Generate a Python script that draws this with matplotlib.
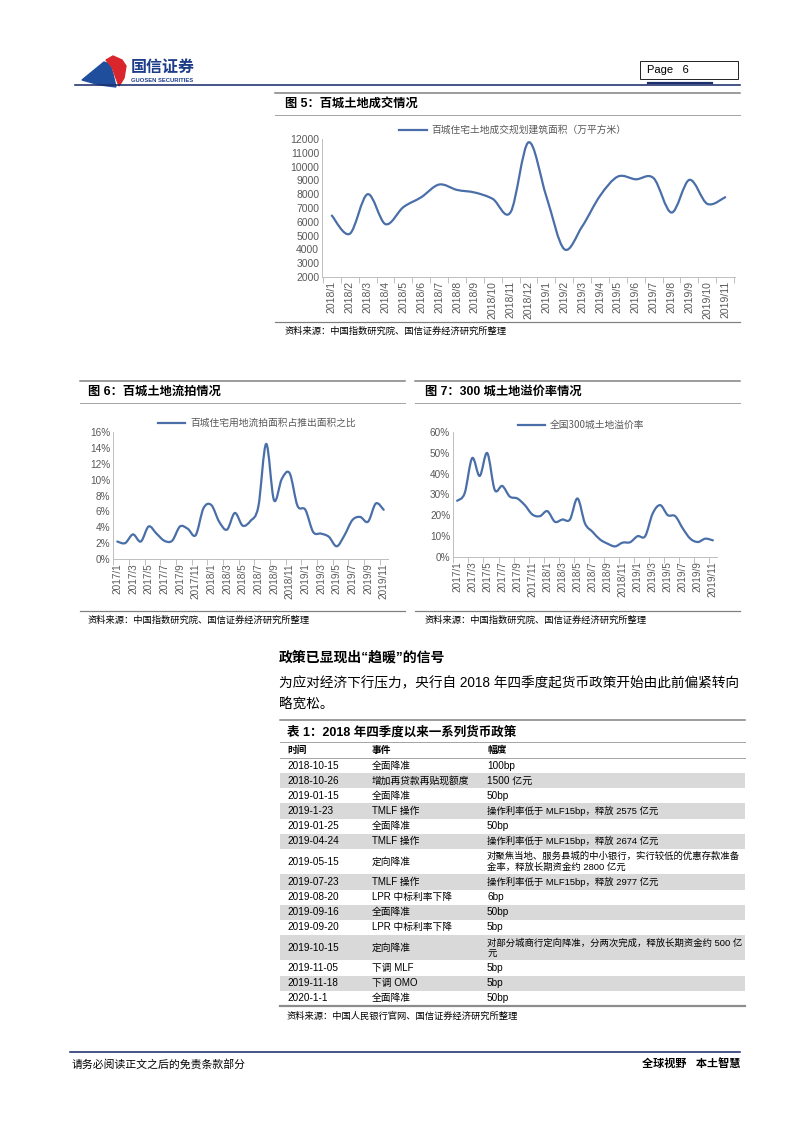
import numpy as np
import matplotlib

matplotlib.use('Agg')
import matplotlib.pyplot as plt
from matplotlib.lines import Line2D
from matplotlib.patches import PathPatch, Polygon, Rectangle
from matplotlib.path import Path
from matplotlib.ticker import FuncFormatter

W, H = 802, 1133
plt.rcParams['font.family'] = ['Liberation Sans', 'Noto Sans CJK SC', 'DejaVu Sans']

LINE_BLUE = '#4a6fa8'
NAVY = '#1d2f6b'
TICK_GREY = '#595959'
SPINE_GREY = '#bfbfbf'

# --- chart data -------------------------------------------------------------
MONTHS_18 = [f'2018/{m}' for m in range(1, 13)] + [f'2019/{m}' for m in range(1, 12)]
LAND_AREA = [6450, 5130, 8000, 5830, 7060, 7780, 8700, 8310, 8120, 7660, 6700, 11760,
             7830, 4020, 5660, 7880, 9280, 9080, 9160, 6670, 9040, 7300, 7780]

MONTHS_17 = ([f'2017/{m}' for m in range(1, 13)] + [f'2018/{m}' for m in range(1, 13)]
             + [f'2019/{m}' for m in range(1, 12)])
FAILED_RATIO = [2.2, 2.0, 3.1, 2.2, 4.1, 3.2, 2.3, 2.3, 4.1, 3.8, 3.0, 6.4,
                6.8, 4.7, 3.7, 5.8, 4.2, 4.8, 6.6, 14.5, 7.4, 10.1, 10.8, 6.7,
                6.2, 3.4, 3.2, 2.8, 1.6, 3.0, 4.9, 5.3, 4.7, 7.0, 6.2]
PREMIUM_RATE = [27.0, 30.6, 47.5, 38.9, 49.9, 32.2, 34.1, 29.0, 28.1, 24.9, 20.4, 19.6,
                22.0, 16.9, 18.0, 18.0, 28.1, 16.1, 12.1, 8.4, 6.4, 5.1, 6.9, 7.1,
                10.0, 10.0, 20.9, 24.9, 20.1, 19.6, 13.7, 8.8, 7.2, 8.8, 8.0]

# --- table data -------------------------------------------------------------
TABLE_HEAD = ['时间', '事件', '幅度']
DATES = ['2018-10-15', '2018-10-26', '2019-01-15', '2019-1-23', '2019-01-25', '2019-04-24',
         '2019-05-15', '2019-07-23', '2019-08-20', '2019-09-16', '2019-09-20', '2019-10-15',
         '2019-11-05', '2019-11-18', '2020-1-1']
EVENTS = ['全面降准', '增加再贷款再贴现额度', '全面降准', 'TMLF 操作', '全面降准', 'TMLF 操作',
          '定向降准', 'TMLF 操作', 'LPR 中标利率下降', '全面降准', 'LPR 中标利率下降', '定向降准',
          '下调 MLF', '下调 OMO', '全面降准']
AMOUNTS = ['100bp', '1500 亿元', '50bp', '操作利率低于 MLF15bp，释放 2575 亿元', '50bp',
           '操作利率低于 MLF15bp，释放 2674 亿元',
           '对聚焦当地、服务县城的中小银行，实行较低的优惠存款准备\n金率，释放长期资金约 2800 亿元',
           '操作利率低于 MLF15bp，释放 2977 亿元', '6bp', '50bp', '5bp',
           '对部分城商行定向降准，分两次完成，释放长期资金约 500 亿\n元',
           '5bp', '5bp', '50bp']


def fx(x):
    return x / W


def fy(y):
    return 1 - y / H


fig = plt.figure(figsize=(W / 100, H / 100), dpi=100)


def text(x, y, s, size, **kw):
    kw.setdefault('va', 'center')
    fig.text(fx(x), fy(y), s, fontsize=size, **kw)


def hline(x0, x1, y, color='#808080', lw=1.0):
    fig.add_artist(Line2D([fx(x0), fx(x1)], [fy(y), fy(y)], color=color, lw=lw * 0.72))


def smooth_path(x, y):
    pts = np.column_stack([x, y]).astype(float)
    ext = np.vstack([pts[0], pts, pts[-1]])
    verts, codes = [pts[0]], [Path.MOVETO]
    for i in range(len(pts) - 1):
        p0, p1, p2, p3 = ext[i], ext[i + 1], ext[i + 2], ext[i + 3]
        verts += [p1 + (p2 - p0) / 6, p2 - (p3 - p1) / 6, p2]
        codes += [Path.CURVE4] * 3
    return Path(verts, codes)


def line_chart(box, labels, values, ylim, ystep, fmt, label, legend_xy, every, tsize):
    left, top, right, bottom = box
    ax = fig.add_axes([fx(left), fy(bottom), fx(right - left), (bottom - top) / H])
    x = np.arange(len(values))
    ax.add_patch(PathPatch(smooth_path(x, values), fill=False, edgecolor=LINE_BLUE,
                           lw=1.6, capstyle='round', joinstyle='round'))
    ax.set_xlim(-0.55, len(values) - 0.45)
    ax.set_ylim(*ylim)
    ax.set_yticks(np.arange(ylim[0], ylim[1] + ystep / 2, ystep))
    ax.yaxis.set_major_formatter(FuncFormatter(fmt))
    ax.set_xticks(x[::every])
    ax.set_xticklabels(labels[::every], rotation=90)
    ax.set_xticks(np.arange(-0.5, len(values), every), minor=True)
    ax.tick_params(axis='x', which='major', length=0, pad=3, labelsize=tsize, labelcolor=TICK_GREY)
    ax.tick_params(axis='x', which='minor', length=4, color=SPINE_GREY, width=0.7)
    ax.tick_params(axis='y', length=0, pad=2, labelsize=tsize, labelcolor=TICK_GREY)
    for side in ('top', 'right'):
        ax.spines[side].set_visible(False)
    for side in ('left', 'bottom'):
        ax.spines[side].set_color(SPINE_GREY)
        ax.spines[side].set_linewidth(0.7)
    handle = Line2D([], [], color=LINE_BLUE, lw=1.6)
    ax.legend([handle], [label], loc='center', bbox_to_anchor=(fx(legend_xy[0]), fy(legend_xy[1])),
              bbox_transform=fig.transFigure, frameon=False, handlelength=2.8,
              handletextpad=0.5, labelcolor=TICK_GREY,
              prop={'family': ['Noto Sans CJK SC', 'DejaVu Sans'], 'size': 7})
    return ax


def figure_block(x0, x1, y_top, title, title_x, y_bottom):
    hline(x0, x1, y_top, '#7f7f7f', 1.5)
    text(title_x, y_top + 11, title, 8.8, fontweight='bold')
    hline(x0, x1, y_top + 22, '#a6a6a6', 1.0)
    hline(x0, x1, y_bottom, '#7f7f7f', 1.2)
    text(title_x, y_bottom + 9, '资料来源：中国指数研究院、国信证券经济研究所整理', 6.7)


# --- header -------------------------------------------------------------
fig.add_artist(Polygon([(fx(p), fy(q)) for p, q in
                        [(82, 80), (104, 62), (110, 64), (113, 74), (116, 87), (100, 85)]],
                       closed=True, color='#1f4e9c', transform=fig.transFigure))
fig.add_artist(Polygon([(fx(p), fy(q)) for p, q in
                        [(106, 60), (113, 56), (122, 60), (126, 66), (124, 78), (119, 86),
                         (116, 78), (112, 67)]],
                       closed=True, color='#d9262c', transform=fig.transFigure))
text(131, 67, '国信证券', 11.5, color='#1d3c8a', fontweight='bold')
text(131, 80, 'GUOSEN SECURITIES', 4.2, color='#1d3c8a', fontweight='bold')
hline(75, 740, 85, NAVY, 1.6)
fig.add_artist(Rectangle((fx(640), fy(79)), fx(98), 18 / H, fill=False, edgecolor='#222222',
                         lw=0.7, transform=fig.transFigure))
text(647, 70, 'Page   6', 8)
hline(648, 712, 82.5, NAVY, 2.2)

# --- charts -------------------------------------------------------------
figure_block(275, 740, 93, '图 5：百城土地成交情况', 285, 322)
line_chart((322, 139, 735, 277), MONTHS_18, LAND_AREA, (2000, 12000), 1000,
           lambda v, _: f'{v:.0f}', '百城住宅土地成交规划建筑面积（万平方米）', (513, 130), 1, 7.5)

figure_block(80, 405, 381, '图 6：百城土地流拍情况', 88, 611)
line_chart((113, 432, 388, 559), MONTHS_17, FAILED_RATIO, (0, 16), 2,
           lambda v, _: f'{v:.0f}%', '百城住宅用地流拍面积占推出面积之比', (257, 423), 2, 7.2)

figure_block(415, 740, 381, '图 7：300 城土地溢价率情况', 425, 611)
line_chart((453, 432, 717, 557), MONTHS_17, PREMIUM_RATE, (0, 60), 10,
           lambda v, _: f'{v:.0f}%', '全国300城土地溢价率', (581, 425), 2, 7.2)

# --- body text ----------------------------------------------------------
text(279, 657, '政策已显现出“趋暖”的信号', 10, fontweight='bold')
text(279, 683, '为应对经济下行压力，央行自 2018 年四季度起货币政策开始由此前偏紧转向', 9.8)
text(279, 705, '略宽松。', 9.8)

# --- table --------------------------------------------------------------
hline(280, 745, 720, '#7f7f7f', 1.5)
text(287, 732, '表 1：2018 年四季度以来一系列货币政策', 9, fontweight='bold')
hline(280, 745, 742, '#a6a6a6', 1.0)
COL_X = [287, 372, 487]
for cx, head in zip(COL_X, TABLE_HEAD):
    text(cx, 750, head, 7, fontweight='bold')
hline(280, 745, 757.5, '#a6a6a6', 1.0)

y = 758.0
for i, (d, e, a) in enumerate(zip(DATES, EVENTS, AMOUNTS)):
    h = 25.5 if '\n' in a else 15.15
    if i % 2 == 1:
        fig.add_artist(Rectangle((fx(280), fy(y + h)), fx(465), h / H, color='#d9d9d9',
                                 lw=0, transform=fig.transFigure))
    yc = y + h / 2
    text(COL_X[0], yc, d, 7.2)
    text(COL_X[1], yc, e, 7)
    text(COL_X[2], yc, a, 7.2 if len(a) < 10 else 6.75, linespacing=1.15)
    y += h
hline(280, 745, 1006, '#8c8c8c', 2.2)
text(287, 1016, '资料来源：中国人民银行官网、国信证券经济研究所整理', 6.7)

# --- footer -------------------------------------------------------------
hline(70, 740, 1052, NAVY, 1.6)
text(72, 1064, '请务必阅读正文之后的免责条款部分', 7.8)
text(740, 1064, '全球视野   本土智慧', 8, fontweight='bold', ha='right')

fig.savefig('out.png', dpi=100)
